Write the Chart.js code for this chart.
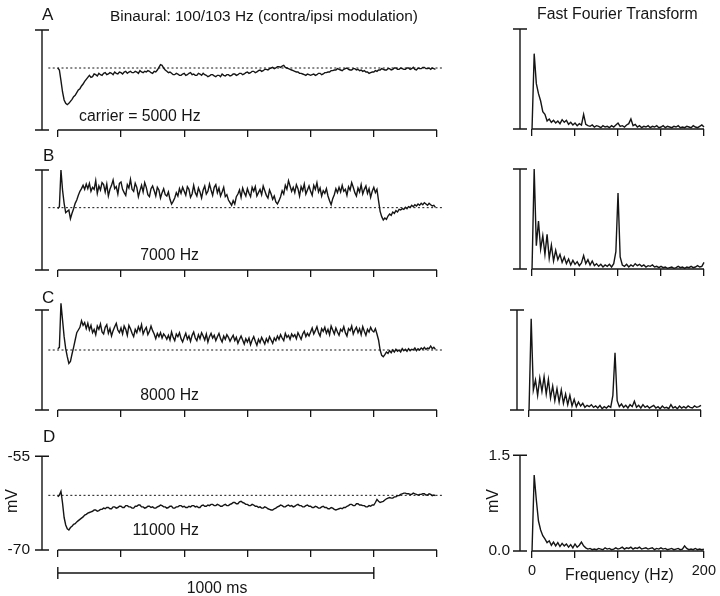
<!DOCTYPE html>
<html><head><meta charset="utf-8">
<script src="https://cdn.jsdelivr.net/npm/chart.js@4.4.1/dist/chart.umd.min.js"></script>
<style>
html,body{margin:0;padding:0;background:#fff;}
#fig{position:relative;width:720px;height:596px;overflow:hidden;background:#fff;font-family:"Liberation Sans",Arial,sans-serif;color:#151515;}
#fig canvas{position:absolute;}
.t{position:absolute;line-height:1;white-space:nowrap;font-size:15.8px;}
.L{font-size:17px;}
.rot{transform:translate(-50%,-50%) rotate(-90deg);font-size:16px;}
</style></head><body>
<div id="fig">
  <canvas id="cA" width="450" height="135" style="left:0;top:15px"></canvas>
  <canvas id="cB" width="450" height="135" style="left:0;top:155px"></canvas>
  <canvas id="cC" width="450" height="135" style="left:0;top:295px"></canvas>
  <canvas id="cD" width="450" height="175" style="left:0;top:435px"></canvas>
  <canvas id="fA" width="270" height="135" style="left:450px;top:14px"></canvas>
  <canvas id="fB" width="270" height="135" style="left:450px;top:154px"></canvas>
  <canvas id="fC" width="270" height="135" style="left:447px;top:295px"></canvas>
  <canvas id="fD" width="270" height="175" style="left:450px;top:436px"></canvas>

  <div class="t L" style="left:42px;top:5.6px">A</div>
  <div class="t L" style="left:43px;top:147.3px">B</div>
  <div class="t L" style="left:42px;top:289px">C</div>
  <div class="t L" style="left:43px;top:428.3px">D</div>
  <div class="t" style="left:110px;top:8.3px;font-size:15.4px">Binaural: 100/103 Hz (contra/ipsi modulation)</div>
  <div class="t" style="left:537px;top:6px">Fast Fourier Transform</div>
  <div class="t" style="left:79px;top:108px">carrier = 5000 Hz</div>
  <div class="t" style="right:521px;top:247px">7000 Hz</div>
  <div class="t" style="right:521px;top:387px">8000 Hz</div>
  <div class="t" style="right:521px;top:522px">11000 Hz</div>
  <div class="t" style="left:217px;top:579.5px;transform:translateX(-50%)">1000 ms</div>
  <div class="t" style="left:565px;top:567px">Frequency (Hz)</div>
  <div class="t rot" style="left:12px;top:501px">mV</div>
  <div class="t rot" style="left:493px;top:501px">mV</div>
</div>
<script>
// ---------------- data ----------------
const TIME_STEP_MS = 5;     // sample spacing of the membrane-potential traces (t = 0 .. 1195 ms)
const FREQ_STEP_HZ = 2.5;   // sample spacing of the FFT traces (f = 0 .. 200 Hz)

// membrane potential (mV)
const traceA = [
  -60.7,-61.0,-62.6,-64.3,-65.5,-66.0,-66.2,-66.0,-65.7,-65.4,
  -65.0,-64.8,-64.4,-64.0,-63.8,-63.4,-63.1,-62.7,-62.4,-62.1,
  -61.8,-62.1,-62.0,-61.6,-61.7,-61.9,-61.5,-61.7,-61.8,-61.5,
  -61.4,-61.7,-61.6,-61.4,-61.5,-61.7,-61.3,-61.5,-61.6,-61.3,
  -61.4,-61.6,-61.3,-61.2,-61.5,-61.3,-61.2,-61.4,-61.4,-61.2,
  -61.3,-61.5,-61.1,-61.3,-61.4,-61.2,-61.3,-61.1,-61.2,-61.4,
  -61.5,-61.2,-61.3,-61.0,-60.6,-60.2,-60.3,-60.7,-61.0,-61.2,
  -61.4,-61.3,-61.5,-61.7,-61.7,-61.5,-61.6,-61.8,-61.8,-61.6,
  -61.5,-61.8,-61.7,-61.5,-61.4,-61.7,-61.6,-61.8,-61.8,-61.5,
  -61.6,-61.8,-61.5,-61.7,-61.8,-62.0,-61.9,-61.7,-61.7,-61.9,
  -62.0,-61.8,-61.8,-62.0,-61.6,-61.8,-61.9,-61.7,-61.7,-61.9,
  -61.8,-61.6,-61.6,-61.8,-61.7,-61.5,-61.5,-61.7,-61.6,-61.4,
  -61.3,-61.5,-61.4,-61.2,-61.2,-61.4,-61.3,-61.1,-61.0,-61.2,
  -61.1,-60.9,-60.9,-61.0,-60.8,-60.7,-60.6,-60.8,-60.7,-60.5,
  -60.5,-60.6,-60.4,-60.3,-60.6,-60.7,-60.8,-60.9,-61.0,-61.1,
  -61.2,-61.3,-61.3,-61.5,-61.5,-61.6,-61.7,-61.8,-61.6,-61.7,
  -61.8,-61.7,-61.6,-61.8,-61.7,-61.5,-61.5,-61.7,-61.6,-61.4,
  -61.4,-61.3,-61.3,-61.1,-61.1,-61.0,-61.0,-60.8,-60.9,-61.0,
  -61.1,-60.9,-60.8,-60.7,-60.9,-61.0,-61.0,-60.8,-60.8,-61.0,
  -60.9,-61.1,-61.0,-61.2,-61.1,-61.3,-61.3,-61.5,-61.4,-61.3,
  -61.3,-61.1,-61.2,-61.0,-61.0,-60.8,-60.9,-61.0,-61.0,-60.8,
  -60.8,-61.0,-60.9,-60.7,-60.7,-60.9,-60.9,-60.7,-60.8,-60.9,
  -60.9,-60.7,-60.7,-60.9,-60.8,-60.6,-60.9,-61.0,-60.7,-60.8,
  -60.8,-60.6,-60.6,-60.8,-60.8,-60.7,-60.9,-60.7,-60.8,-60.9
];
const traceB = [
  -60.8,-60.5,-55.0,-58.0,-60.0,-61.4,-61.2,-61.0,-62.3,-61.5,
  -60.8,-60.0,-59.5,-58.8,-58.2,-57.8,-57.3,-57.9,-57.1,-57.8,
  -57.0,-58.2,-57.6,-57.9,-56.6,-58.5,-57.4,-58.0,-56.9,-57.2,
  -58.3,-57.1,-58.9,-57.9,-57.3,-56.5,-57.8,-57.5,-58.6,-57.0,
  -56.8,-57.9,-58.4,-58.8,-57.2,-57.7,-56.4,-57.9,-58.2,-57.0,
  -57.6,-59.0,-58.1,-57.3,-58.3,-56.9,-57.6,-58.7,-59.0,-57.8,
  -57.4,-58.1,-58.9,-57.6,-58.0,-59.2,-58.4,-57.8,-58.7,-58.9,
  -58.3,-59.4,-60.1,-59.7,-59.2,-58.4,-58.9,-57.8,-58.5,-57.6,
  -58.2,-58.8,-57.5,-57.9,-59.1,-58.6,-57.3,-58.4,-58.9,-57.7,
  -58.3,-59.2,-58.0,-57.4,-58.6,-58.2,-57.1,-58.0,-58.8,-57.6,
  -57.2,-58.4,-57.7,-58.9,-58.3,-57.6,-59.0,-58.7,-59.5,-59.9,
  -60.3,-59.6,-60.1,-59.0,-58.6,-58.0,-59.1,-57.7,-58.4,-58.9,
  -57.8,-58.5,-59.0,-57.6,-58.2,-57.5,-58.9,-58.4,-57.9,-58.7,
  -57.4,-58.1,-58.8,-59.2,-58.0,-58.6,-59.4,-58.9,-59.8,-60.1,
  -59.6,-59.0,-58.1,-58.6,-57.3,-57.9,-56.6,-57.4,-58.2,-57.6,
  -58.4,-57.2,-57.8,-58.9,-57.5,-58.1,-57.1,-58.6,-58.0,-57.4,
  -58.2,-58.8,-57.3,-57.9,-56.9,-58.3,-57.7,-58.9,-58.1,-58.5,
  -57.8,-58.9,-59.6,-60.2,-59.3,-58.7,-57.8,-58.4,-57.6,-58.3,
  -57.3,-58.2,-57.9,-58.8,-57.5,-58.0,-56.9,-57.6,-58.4,-58.9,
  -57.7,-58.3,-57.2,-58.6,-57.9,-57.4,-58.5,-57.8,-59.1,-58.2,
  -57.6,-58.4,-57.9,-59.6,-61.2,-62.0,-62.5,-62.2,-62.4,-61.9,
  -61.6,-61.8,-61.3,-61.5,-61.1,-61.3,-60.9,-61.0,-60.8,-60.9,
  -60.6,-60.8,-60.5,-60.6,-60.3,-60.5,-60.2,-60.4,-60.1,-60.3,
  -60.0,-60.2,-59.9,-60.1,-60.3,-60.0,-60.2,-60.4,-60.3,-60.6
];
const traceC = [
  -60.8,-60.6,-54.0,-56.5,-59.0,-60.8,-62.0,-63.0,-62.7,-61.6,
  -60.6,-59.5,-58.4,-58.0,-57.6,-56.6,-57.3,-56.9,-57.8,-57.0,
  -58.0,-57.3,-58.4,-57.9,-58.7,-57.4,-57.9,-57.1,-58.3,-58.6,
  -57.6,-57.2,-58.5,-57.8,-58.9,-58.1,-57.5,-57.0,-58.0,-58.4,
  -57.7,-58.6,-57.4,-57.9,-58.8,-57.3,-57.8,-58.5,-59.0,-57.9,
  -58.4,-57.5,-58.1,-57.2,-58.6,-58.0,-57.6,-58.7,-58.2,-57.4,
  -58.1,-58.6,-59.3,-58.5,-59.0,-58.4,-59.2,-58.6,-58.9,-59.4,
  -58.8,-59.5,-58.3,-59.1,-59.6,-58.6,-59.0,-58.4,-59.3,-59.8,
  -59.1,-58.5,-59.4,-58.9,-59.7,-58.8,-58.3,-59.2,-59.6,-58.7,
  -59.3,-58.4,-58.9,-59.5,-58.6,-59.8,-59.0,-58.5,-59.2,-58.8,
  -59.6,-59.0,-58.5,-59.3,-59.8,-58.9,-59.4,-58.7,-59.1,-59.7,
  -59.2,-58.8,-59.6,-59.1,-60.0,-59.4,-58.9,-59.5,-60.1,-59.3,
  -59.8,-59.2,-60.2,-59.5,-59.0,-59.7,-60.3,-59.4,-59.9,-59.1,
  -59.6,-60.1,-59.3,-59.8,-59.0,-59.5,-60.0,-59.2,-59.6,-58.9,
  -59.4,-58.7,-59.2,-59.6,-58.5,-59.1,-58.8,-59.4,-58.6,-59.0,
  -58.7,-59.3,-58.4,-58.9,-59.4,-58.6,-58.2,-59.0,-58.5,-58.9,
  -58.3,-57.7,-58.6,-58.1,-57.5,-58.4,-58.9,-57.8,-58.2,-57.6,
  -58.5,-57.9,-58.7,-57.4,-58.0,-58.6,-57.7,-58.3,-58.8,-57.9,
  -58.2,-57.5,-58.4,-58.9,-57.8,-58.1,-57.4,-58.6,-58.0,-57.6,
  -58.4,-57.8,-58.7,-57.5,-58.2,-58.8,-57.9,-58.3,-57.6,-58.1,
  -58.3,-57.8,-58.6,-59.5,-61.0,-61.8,-62.0,-61.7,-61.3,-61.5,
  -61.1,-61.4,-61.0,-61.3,-60.9,-61.2,-61.0,-61.3,-60.8,-61.1,
  -60.9,-61.2,-60.8,-61.1,-60.9,-61.0,-60.7,-61.1,-60.8,-61.0,
  -60.7,-60.9,-60.6,-60.9,-60.7,-60.8,-60.4,-60.8,-60.6,-60.9
];
const traceD = [
  -61.5,-61.2,-60.6,-62.5,-64.8,-66.0,-66.6,-66.8,-66.4,-66.2,
  -65.9,-65.8,-65.5,-65.3,-65.1,-64.9,-64.7,-64.4,-64.3,-64.1,
  -64.0,-63.9,-63.8,-63.6,-63.6,-63.8,-63.7,-63.5,-63.5,-63.3,
  -63.4,-63.2,-63.2,-63.4,-63.4,-63.1,-63.1,-63.3,-63.2,-63.0,
  -63.0,-63.2,-63.2,-62.9,-62.9,-63.1,-63.1,-63.3,-63.3,-63.0,
  -63.0,-62.8,-62.8,-63.1,-63.1,-63.3,-63.2,-63.0,-63.0,-63.2,
  -63.1,-63.3,-63.3,-63.1,-63.0,-62.8,-62.9,-63.1,-63.1,-63.3,
  -63.2,-63.0,-63.0,-63.3,-63.3,-63.1,-63.1,-62.9,-62.9,-63.1,
  -63.0,-63.2,-63.2,-63.0,-63.1,-62.9,-62.9,-63.1,-63.0,-63.2,
  -63.2,-62.9,-62.8,-63.0,-63.0,-62.8,-62.9,-62.7,-62.7,-62.9,
  -62.9,-62.7,-62.8,-63.0,-63.0,-62.8,-62.7,-62.9,-62.9,-62.7,
  -62.6,-62.4,-62.4,-62.6,-62.6,-62.3,-62.2,-62.4,-62.5,-62.7,
  -62.7,-62.9,-62.9,-62.7,-62.8,-63.0,-63.0,-63.2,-63.1,-63.3,
  -63.3,-63.1,-63.2,-63.4,-63.5,-63.6,-63.6,-63.4,-63.3,-63.1,
  -63.0,-62.8,-62.9,-63.1,-63.1,-62.9,-62.8,-63.0,-62.9,-63.1,
  -63.0,-62.8,-62.7,-62.9,-62.9,-63.1,-63.1,-62.9,-62.8,-63.0,
  -63.0,-63.2,-63.2,-63.0,-63.1,-63.3,-63.3,-63.1,-63.0,-63.2,
  -63.2,-63.4,-63.4,-63.2,-63.3,-63.5,-63.6,-63.5,-63.4,-63.3,
  -63.4,-63.2,-63.2,-63.0,-62.9,-62.7,-62.7,-62.9,-62.9,-62.6,
  -62.6,-62.8,-62.8,-62.9,-62.9,-63.1,-63.1,-62.9,-63.0,-62.8,
  -62.8,-62.4,-61.9,-62.2,-62.4,-62.3,-62.2,-62.0,-61.8,-61.7,
  -61.6,-61.7,-61.7,-61.5,-61.5,-61.3,-61.3,-61.1,-61.0,-60.9,
  -60.9,-61.0,-61.0,-61.1,-61.1,-60.9,-61.0,-61.1,-61.2,-61.1,
  -61.1,-61.0,-61.0,-61.2,-61.2,-61.0,-61.1,-61.3,-61.2,-61.3
];
// resting-potential reference levels (dotted lines), mV
const baselineA = -60.7, baselineB = -60.65, baselineC = -61.0, baselineD = -61.25;
const BASELINE_START_MS = -30, BASELINE_END_MS = 1220;

// FFT amplitude (mV)
const fftA = [
  0.00,1.13,0.68,0.53,0.42,0.26,0.22,0.12,0.15,0.10,
  0.13,0.09,0.12,0.08,0.14,0.10,0.13,0.07,0.10,0.06,
  0.09,0.05,0.08,0.06,0.22,0.07,0.05,0.04,0.06,0.03,
  0.05,0.04,0.02,0.05,0.03,0.04,0.02,0.05,0.03,0.06,
  0.09,0.04,0.05,0.03,0.06,0.08,0.15,0.05,0.07,0.03,
  0.05,0.02,0.04,0.03,0.05,0.02,0.04,0.03,0.05,0.02,
  0.03,0.05,0.02,0.04,0.03,0.02,0.04,0.03,0.05,0.02,
  0.03,0.02,0.04,0.03,0.02,0.05,0.03,0.02,0.04,0.06,
  0.03
];
const fftB = [
  0.00,1.50,0.35,0.72,0.30,0.50,0.22,0.52,0.16,0.36,
  0.12,0.28,0.14,0.22,0.10,0.18,0.08,0.15,0.06,0.13,
  0.07,0.11,0.05,0.09,0.20,0.08,0.14,0.06,0.12,0.05,
  0.08,0.04,0.07,0.03,0.06,0.04,0.07,0.03,0.08,0.26,
  1.14,0.18,0.06,0.04,0.07,0.03,0.06,0.04,0.08,0.05,
  0.07,0.04,0.06,0.03,0.05,0.04,0.06,0.03,0.04,0.02,
  0.04,0.02,0.03,0.01,0.02,0.03,0.01,0.02,0.04,0.02,
  0.03,0.01,0.03,0.02,0.04,0.02,0.03,0.05,0.03,0.04,
  0.10
];
const fftC = [
  0.00,1.37,0.30,0.45,0.22,0.48,0.28,0.50,0.24,0.46,
  0.18,0.36,0.14,0.32,0.12,0.30,0.10,0.24,0.08,0.22,
  0.06,0.16,0.05,0.12,0.06,0.10,0.04,0.07,0.05,0.08,
  0.04,0.06,0.03,0.07,0.02,0.05,0.03,0.06,0.04,0.22,
  0.86,0.14,0.05,0.09,0.04,0.07,0.03,0.08,0.05,0.13,
  0.04,0.07,0.03,0.08,0.04,0.06,0.03,0.05,0.07,0.03,
  0.05,0.02,0.06,0.03,0.04,0.02,0.08,0.03,0.05,0.02,
  0.06,0.03,0.05,0.03,0.06,0.04,0.03,0.06,0.04,0.05,
  0.07
];
const fftD = [
  0.00,1.19,0.80,0.47,0.33,0.24,0.19,0.13,0.16,0.09,
  0.14,0.08,0.13,0.07,0.12,0.08,0.11,0.06,0.10,0.05,
  0.11,0.06,0.09,0.14,0.08,0.05,0.03,0.04,0.02,0.03,
  0.02,0.04,0.03,0.02,0.05,0.03,0.04,0.02,0.03,0.05,
  0.03,0.04,0.06,0.03,0.05,0.04,0.06,0.03,0.05,0.04,
  0.06,0.03,0.04,0.05,0.03,0.04,0.05,0.02,0.04,0.03,
  0.05,0.03,0.04,0.02,0.03,0.04,0.02,0.03,0.04,0.02,
  0.03,0.08,0.04,0.02,0.03,0.02,0.04,0.02,0.03,0.02,
  0.03
];

// axes and tick labels
const timeTicks = [0, 200, 400, 600, 800, 1000, 1200];
const freqTicks = [0, 50, 100, 150, 200];
const freqTickLabels = ['0', '', '', '', '200'];
const mvRange = [-70, -55];
const mvTickLabels = ['-70', '-55'];
const fftRange = [0, 1.5];
const fftTickLabels = ['0.0', '1.5'];
const SCALE_BAR_MS = 1000;

// ---------------- drawing ----------------
const INK = '#151515';
Chart.defaults.font.family = '"Liberation Sans", Arial, sans-serif';
Chart.defaults.color = INK;

const panelAxes = {
  id: 'panelAxes',
  afterDatasetsDraw(chart, args, o) {
    const {ctx, chartArea: a, scales: {x, y}} = chart;
    ctx.save();
    ctx.strokeStyle = INK; ctx.lineWidth = 1.4;
    const ax = a.left;
    const yT = y.getPixelForValue(y.max), yB = y.getPixelForValue(y.min);
    ctx.beginPath();
    ctx.moveTo(ax, yT); ctx.lineTo(ax, yB);
    ctx.moveTo(ax - 7, yT); ctx.lineTo(ax + 7, yT);
    ctx.moveTo(ax - 7, yB); ctx.lineTo(ax + 7, yB);
    ctx.moveTo(x.getPixelForValue(o.xStart), yB); ctx.lineTo(x.getPixelForValue(x.max), yB);
    if (o.scaleBarMs) {
      const sy = yB + 23, x0 = x.getPixelForValue(0), x1 = x.getPixelForValue(o.scaleBarMs);
      ctx.moveTo(x0, sy); ctx.lineTo(x1, sy);
      ctx.moveTo(x0, sy - 6); ctx.lineTo(x0, sy + 6);
      ctx.moveTo(x1, sy - 6); ctx.lineTo(x1, sy + 6);
    }
    ctx.stroke();
    ctx.restore();
  }
};

function traceDataset(values, step, width) {
  return {
    data: values.map((v, i) => ({x: i * step, y: v})),
    borderColor: INK, borderWidth: width, pointRadius: 0, tension: 0, fill: false, clip: 12
  };
}
function baselineDataset(level) {
  return {
    data: [{x: BASELINE_START_MS, y: level}, {x: BASELINE_END_MS, y: level}],
    borderColor: INK, borderWidth: 1, borderDash: [2, 2.4], pointRadius: 0, fill: false, clip: 12
  };
}

function makePanel(id, c) {
  return new Chart(document.getElementById(id), {
    type: 'line',
    data: {datasets: c.datasets},
    options: {
      responsive: false, animation: false, devicePixelRatio: 1,
      layout: {padding: c.padding},
      plugins: {legend: {display: false}, tooltip: {enabled: false}, panelAxes: c.axes},
      scales: {
        x: {
          type: 'linear', min: c.xMin, max: c.xMax,
          afterFit: s => { s.height = c.xHeight; },
          afterBuildTicks: s => { s.ticks = c.xTicks.map(v => ({value: v})); },
          grid: {display: true, drawOnChartArea: false, drawTicks: true, tickLength: 7, color: INK, lineWidth: 1.3},
          border: {display: false},
          ticks: {display: !!c.xLabels, autoSkip: false, maxRotation: 0, padding: 4,
                  font: {size: 14.5}, color: INK,
                  callback: (v, i) => c.xLabels ? c.xLabels[i] : ''}
        },
        y: {
          type: 'linear', min: c.yRange[0], max: c.yRange[1],
          afterFit: s => { s.width = c.yWidth; },
          afterBuildTicks: s => { s.ticks = c.yRange.map(v => ({value: v})); },
          grid: {display: false, drawTicks: false},
          border: {display: false},
          ticks: {display: !!c.yLabels, padding: c.yPad, font: {size: 15.5}, color: INK,
                  callback: (v, i) => c.yLabels ? c.yLabels[i] : ''}
        }
      }
    },
    plugins: [panelAxes]
  });
}

function timePanel(id, trace, base, last) {
  makePanel(id, {
    datasets: [baselineDataset(base), traceDataset(trace, TIME_STEP_MS, 1.4)],
    padding: {left: 0, top: 15, right: 13, bottom: last ? 50 : 10},
    xMin: -50, xMax: 1200, xTicks: timeTicks, xHeight: 10,
    yRange: mvRange, yWidth: 42, yPad: 12,
    yLabels: last ? mvTickLabels : null,
    axes: {xStart: 0, scaleBarMs: last ? SCALE_BAR_MS : 0}
  });
}
function fftPanel(id, trace, last) {
  makePanel(id, {
    datasets: [traceDataset(trace, FREQ_STEP_HZ, 1.4)],
    padding: {left: 0, top: 15, right: 16, bottom: last ? 30 : 10},
    xMin: -14, xMax: 200, xTicks: freqTicks, xHeight: last ? 30 : 10,
    xLabels: last ? freqTickLabels : null,
    yRange: fftRange, yWidth: 70, yPad: 10,
    yLabels: last ? fftTickLabels : null,
    axes: {xStart: 0, scaleBarMs: 0}
  });
}

timePanel('cA', traceA, baselineA, false);
timePanel('cB', traceB, baselineB, false);
timePanel('cC', traceC, baselineC, false);
timePanel('cD', traceD, baselineD, true);
fftPanel('fA', fftA, false);
fftPanel('fB', fftB, false);
fftPanel('fC', fftC, false);
fftPanel('fD', fftD, true);
</script>
</body></html>
